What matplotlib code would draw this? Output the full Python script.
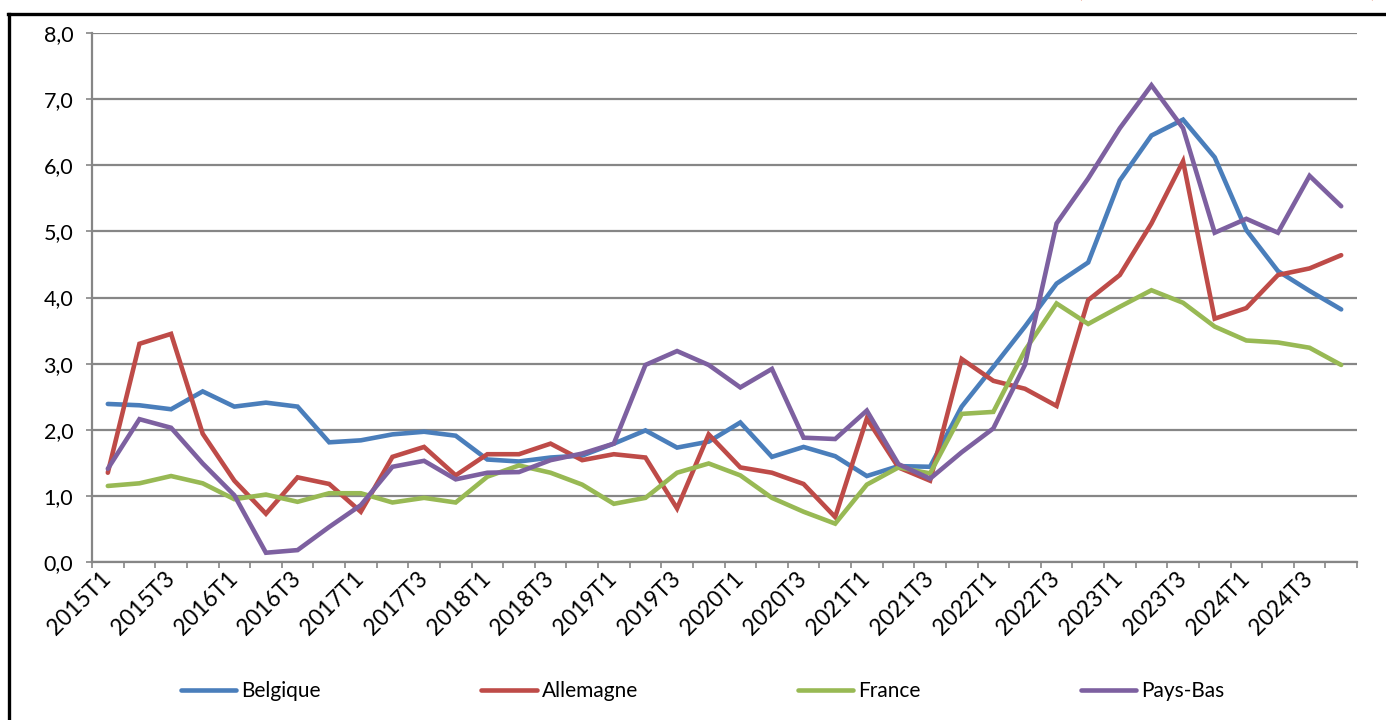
import matplotlib
matplotlib.use("Agg")
import matplotlib.pyplot as plt
from matplotlib.lines import Line2D
from matplotlib.ticker import FixedLocator, FuncFormatter
from matplotlib.transforms import ScaledTranslation

plt.rcParams['font.family'] = ['Lato', 'DejaVu Sans']

years = list(range(2015, 2025))
quarters = [f"{y}T{q}" for y in years for q in range(1, 5)]

belgique = [2.39, 2.37, 2.31, 2.58, 2.35, 2.41, 2.35, 1.81, 1.84, 1.93,
            1.97, 1.91, 1.55, 1.52, 1.58, 1.61, 1.79, 1.99, 1.73, 1.82,
            2.11, 1.59, 1.74, 1.60, 1.30, 1.45, 1.44, 2.35, 2.95, 3.56,
            4.21, 4.53, 5.77, 6.45, 6.69, 6.12, 5.02, 4.40, 4.10, 3.82]
allemagne = [1.35, 3.30, 3.45, 1.94, 1.23, 0.73, 1.28, 1.18, 0.76, 1.59,
             1.74, 1.31, 1.63, 1.63, 1.79, 1.54, 1.63, 1.58, 0.81, 1.93,
             1.43, 1.35, 1.18, 0.68, 2.17, 1.43, 1.23, 3.07, 2.74, 2.62,
             2.36, 3.96, 4.34, 5.12, 6.06, 3.68, 3.84, 4.34, 4.44, 4.64]
france = [1.15, 1.19, 1.30, 1.19, 0.95, 1.02, 0.91, 1.04, 1.04, 0.90,
          0.97, 0.90, 1.29, 1.46, 1.35, 1.17, 0.88, 0.97, 1.35, 1.49,
          1.31, 0.97, 0.76, 0.58, 1.17, 1.43, 1.34, 2.24, 2.27, 3.20,
          3.91, 3.60, 3.86, 4.11, 3.92, 3.56, 3.35, 3.32, 3.24, 2.98]
pays_bas = [1.41, 2.16, 2.03, 1.49, 1.01, 0.14, 0.18, 0.53, 0.86, 1.44,
            1.53, 1.25, 1.35, 1.36, 1.54, 1.64, 1.79, 2.98, 3.19, 2.98,
            2.64, 2.92, 1.88, 1.86, 2.29, 1.48, 1.26, 1.66, 2.02, 2.98,
            5.12, 5.80, 6.56, 7.21, 6.56, 4.98, 5.19, 4.98, 5.84, 5.38]

series_names = ["Belgique", "Allemagne", "France", "Pays-Bas"]
series_values = [belgique, allemagne, france, pays_bas]
colors = ["#4A7EBB", "#BE4B48", "#98B954", "#7D60A0"]

W, H = 1386, 720
FS = 15
fig = plt.figure(figsize=(W / 100, H / 100), dpi=100)
ax = fig.add_axes([92 / W, 1 - 562 / H, (1357 - 92) / W, (562 - 33) / H])

x = list(range(len(quarters)))
for name, vals, c in zip(series_names, series_values, colors):
    ax.plot(x, vals, color=c, lw=3.3, label=name, solid_joinstyle='miter',
            solid_capstyle='round')

grid_c = "#868686"
ax.set_ylim(0, 8)
ax.set_xlim(-0.5, len(quarters) - 0.5)
ax.set_yticks(range(0, 9))
ax.yaxis.set_major_formatter(FuncFormatter(lambda v, p: f"{v:.1f}".replace('.', ',')))
ax.grid(axis='y', color=grid_c, lw=1.6)
ax.set_axisbelow(True)

ax.set_xticks(x[::2])
ax.set_xticklabels(quarters[::2], rotation=45, ha='right', va='center',
                   rotation_mode='anchor', fontsize=16.3)
shift = ScaledTranslation(7 / 100, 0, fig.dpi_scale_trans)
for lbl in ax.get_xticklabels():
    lbl.set_transform(lbl.get_transform() + shift)
ax.xaxis.set_minor_locator(FixedLocator([i - 0.5 for i in range(len(quarters) + 1)]))
ax.tick_params(axis='x', which='major', length=0, pad=9.5)
ax.tick_params(axis='x', which='minor', length=4.5, width=1.2, color=grid_c)
ax.tick_params(axis='y', length=4.5, width=1.2, color=grid_c, labelsize=15.5, pad=9)

for s in ['top', 'right']:
    ax.spines[s].set_visible(False)
for s in ['left', 'bottom']:
    ax.spines[s].set_color(grid_c)
    ax.spines[s].set_linewidth(1.6)

fig.legend(loc='center', bbox_to_anchor=(703 / W, 1 - 691 / H), ncol=4,
           frameon=False, fontsize=FS, handlelength=2.65, handletextpad=0.24,
           columnspacing=7.7)

# outer frame
fig.add_artist(Line2D([8 / W, 1.0], [1 - 14 / H, 1 - 14 / H], color='black', lw=2.4,
                      transform=fig.transFigure))
fig.add_artist(Line2D([9 / W, 9 / W], [1 - 14 / H, 0], color='black', lw=2.4,
                      transform=fig.transFigure))

# cropped red parentheses at the top edge (only their lower tips are visible)
fig.text(1080 / W, 1 + 7 / H, "(", color="#E0502A", fontsize=13, ha='center', va='center')
fig.text(1373 / W, 1 + 7 / H, ")", color="#E0502A", fontsize=13, ha='center', va='center')

fig.savefig("out.png", dpi=100)
